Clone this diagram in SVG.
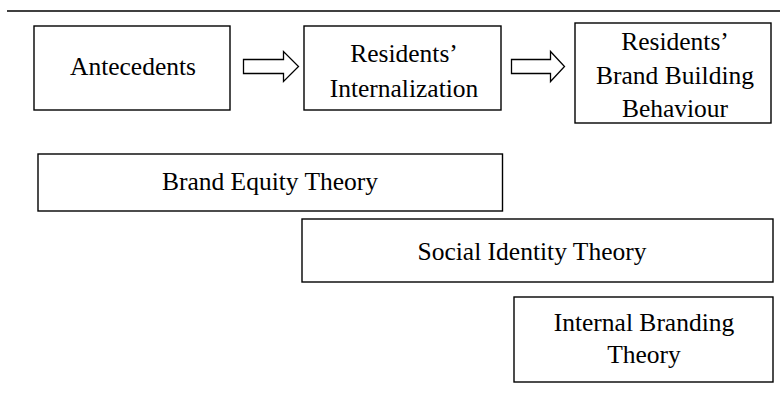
<svg xmlns="http://www.w3.org/2000/svg" width="780" height="398" viewBox="0 0 780 398">
<style>
.box{fill:#fff;stroke:#000;stroke-width:1.4}
.arr{fill:#fff;stroke:#000;stroke-width:1.3;stroke-linejoin:miter}
text{font-family:"Liberation Serif","Times New Roman",serif;font-size:25.5px;fill:#000;text-anchor:middle}
</style>
<rect width="780" height="398" fill="#fff"/>
<line x1="7" y1="11" x2="780" y2="11" stroke="#000" stroke-width="1.5"/>
<g id="antecedents">
<rect class="box" x="34" y="26" width="196" height="84"/>
<text x="133" y="75">Antecedents</text>
</g>
<g id="internalization">
<rect class="box" x="304" y="26" width="197" height="84"/>
<text x="404" y="62">Residents’</text>
<text x="404" y="97">Internalization</text>
</g>
<g id="behaviour">
<rect class="box" x="575" y="23" width="196" height="100"/>
<text x="675" y="50">Residents’</text>
<text x="675" y="84">Brand Building</text>
<text x="675" y="117">Behaviour</text>
</g>
<g id="connectors">
<path class="arr" d="M243.5,59.5 H283.5 V51.5 L298.5,66.5 L283.5,81.5 V73.5 H243.5 Z"/>
<path class="arr" d="M511.5,59.5 H550.5 V51.5 L564.5,66.5 L550.5,81.5 V73.5 H511.5 Z"/>
</g>
<g id="brand-equity">
<rect class="box" x="38" y="154" width="464.5" height="57"/>
<text x="270" y="190">Brand Equity Theory</text>
</g>
<g id="social-identity">
<rect class="box" x="302" y="219" width="471" height="63"/>
<text x="532" y="260">Social Identity Theory</text>
</g>
<g id="internal-branding">
<rect class="box" x="514" y="297" width="259" height="85"/>
<text x="644" y="331">Internal Branding</text>
<text x="644" y="363">Theory</text>
</g>
</svg>
